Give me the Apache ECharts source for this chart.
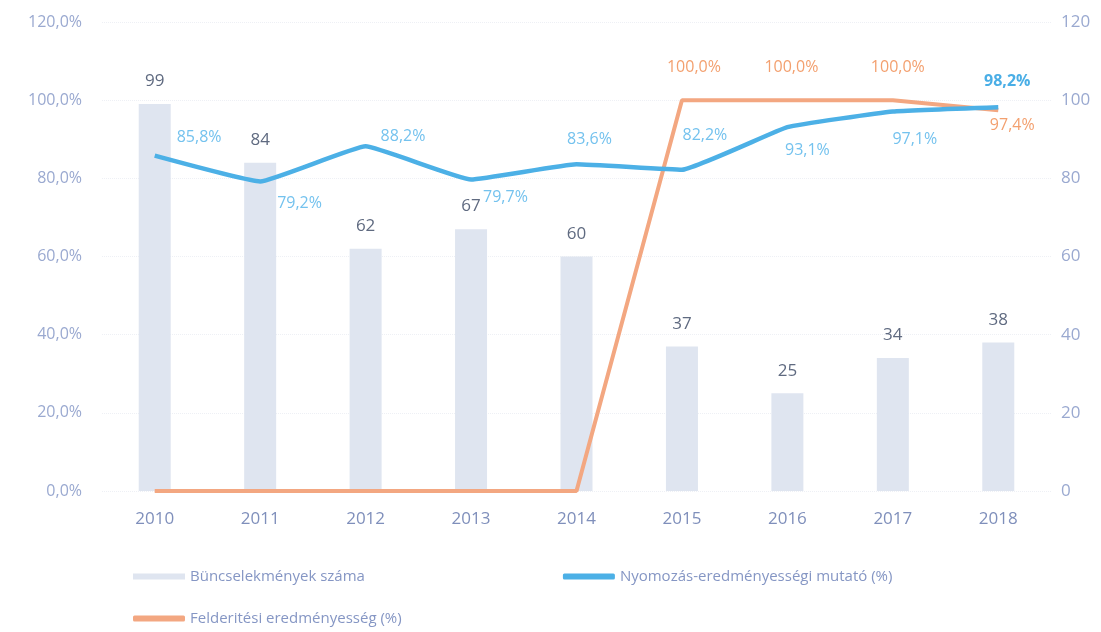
<!DOCTYPE html>
<html>
<head>
  <meta charset="utf-8">
  <script src="https://cdn.jsdelivr.net/npm/echarts@6/dist/echarts.min.js"></script>
  <style>
    html, body { margin: 0; padding: 0; background: #fff; }
    #chart { width: 1101px; height: 632px; }
  </style>
</head>
<body>
  <div id="chart"></div>
  <script>
    // adatok
    var years = ['2010', '2011', '2012', '2013', '2014', '2015', '2016', '2017', '2018'];
    var crimes = [99, 84, 62, 67, 60, 37, 25, 34, 38];
    var nyomozas = [85.8, 79.2, 88.2, 79.7, 83.6, 82.2, 93.1, 97.1, 98.2];
    var felderites = [0, 0, 0, 0, 0, 100, 100, 100, 97.4];

    // címkék helye pontonként
    var blueLabelPos = ['right', 'right', 'right', 'right', 'top', 'top', 'bottom', 'bottom', 'top'];
    var blueLabelOff = [[17, -18], [12, 22], [10, -10], [7, 18], [13, -12], [23, -21], [20, 10], [22, 15], [9, -13]];
    var orangeLabelOff = [0, 0, 0, 0, 0, [12, -20], [4, -20], [5, -20], [14, 2]];

    var fmt = function (v) { return v.toFixed(1).replace('.', ',') + '%'; };
    var font = 'Open Sans';

    var blueData = nyomozas.map(function (v, i) {
      return {
        value: v,
        label: {
          position: blueLabelPos[i],
          offset: blueLabelOff[i],
          fontWeight: i === 8 ? 'bold' : 'normal',
          color: i === 8 ? '#4aaee6' : '#74c2ee'
        }
      };
    });

    var orangeData = felderites.map(function (v, i) {
      return {
        value: v,
        label: {
          show: v > 0,
          position: i === 8 ? 'bottom' : 'top',
          offset: orangeLabelOff[i] || [0, 0]
        }
      };
    });

    var chart = echarts.init(document.getElementById('chart'));
    chart.setOption({
      textStyle: { fontFamily: font },
      grid: { left: 102, right: 50, top: 22, bottom: 141 },
      legend: [
        {
          left: 128, top: 564, itemWidth: 52, itemHeight: 6, itemGap: 198,
          textStyle: { color: '#8596c4', fontSize: 15, fontFamily: font },
          data: [
            { name: 'Büncselekmények száma', icon: 'rect' },
            { name: 'Nyomozás-eredményességi mutató (%)', icon: 'roundRect' }
          ]
        },
        {
          left: 128, top: 606, itemWidth: 52, itemHeight: 6,
          textStyle: { color: '#8596c4', fontSize: 15, fontFamily: font },
          data: [{ name: 'Felderitési eredményesség (%)', icon: 'roundRect' }]
        }
      ],
      xAxis: {
        type: 'category',
        data: years,
        axisLine: { show: false },
        axisTick: { show: false },
        axisLabel: { color: '#7f8fbb', fontSize: 17, margin: 20 }
      },
      yAxis: [
        {
          type: 'value', min: 0, max: 120, interval: 20,
          axisLabel: { color: '#9aa9d0', fontSize: 16, margin: 20, formatter: function (v) { return fmt(v); } },
          splitLine: { lineStyle: { color: '#eef0f5', type: 'dotted' } }
        },
        {
          type: 'value', min: 0, max: 120, interval: 20,
          axisLabel: { color: '#9aa9d0', fontSize: 17, margin: 10 },
          splitLine: { show: false }
        }
      ],
      series: [
        {
          name: 'Büncselekmények száma',
          type: 'bar',
          yAxisIndex: 1,
          data: crimes,
          barWidth: 32,
          itemStyle: { color: '#dfe5f0' },
          label: { show: true, position: 'top', color: '#5f6a80', fontSize: 17, distance: 14 }
        },
        {
          name: 'Nyomozás-eredményességi mutató (%)',
          type: 'line',
          yAxisIndex: 0,
          data: blueData,
          smooth: 0.1,
          symbol: 'circle',
          symbolSize: 0,
          lineStyle: { color: '#4cb0e6', width: 4.5 },
          itemStyle: { color: '#4cb0e6' },
          label: { show: true, fontSize: 16, formatter: function (p) { return fmt(p.value); } },
          z: 3
        },
        {
          name: 'Felderitési eredményesség (%)',
          type: 'line',
          yAxisIndex: 0,
          data: orangeData,
          symbol: 'circle',
          symbolSize: 0,
          lineStyle: { color: '#f3a781', width: 4 },
          itemStyle: { color: '#f3a781' },
          label: { color: '#f3a06f', fontSize: 16, formatter: function (p) { return fmt(p.value); } },
          z: 2
        }
      ]
    });
  </script>
</body>
</html>
